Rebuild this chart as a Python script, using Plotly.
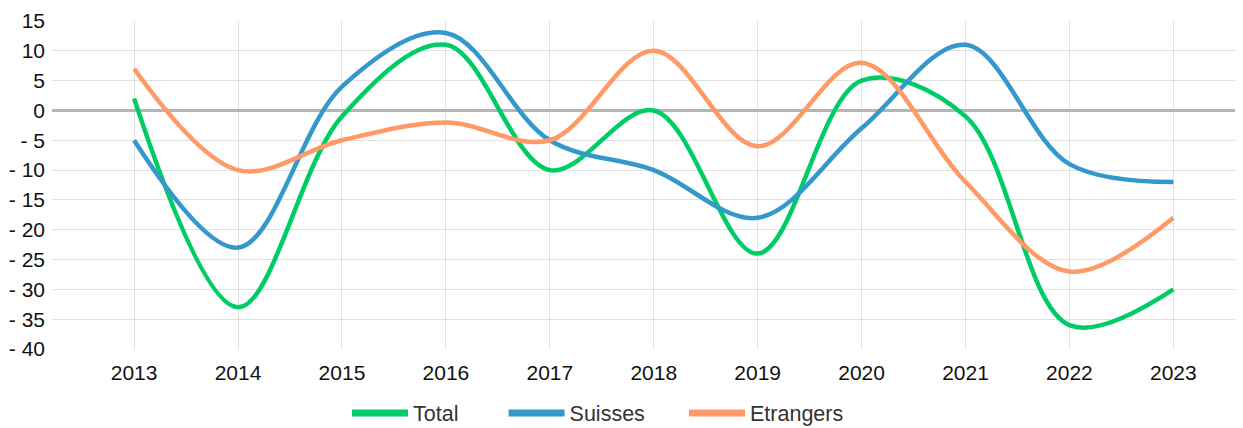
import plotly.graph_objects as go

years = ["2013", "2014", "2015", "2016", "2017", "2018", "2019", "2020", "2021", "2022", "2023"]
total = [2, -33, -1, 11, -10, 0, -24, 5, -1, -36, -30]
suisses = [-5, -23, 4, 13, -5, -10, -18, -3, 11, -9, -12]
etrangers = [7, -10, -5, -2, -5, 10, -6, 8, -12, -27, -18]

names = ["Total", "Suisses", "Etrangers"]
colors = ["#00CC66", "#3399CC", "#FF9966"]
series = [total, suisses, etrangers]
legend_pad = ["\u00a0" * 6 + "\u2009", "\u00a0" * 5 + "\u2009", ""]

ytickvals = list(range(-40, 20, 5))
yticktext = [("- " + str(-v)) if v < 0 else str(v) for v in ytickvals]

fig = go.Figure()
for n, c, s in zip(names, colors, series):
    fig.add_trace(go.Scatter(
        x=years, y=s, name=n, mode="lines", legendgroup=n, showlegend=False,
        line=dict(color=c, width=4.5, shape="spline", smoothing=1.0),
    ))
# legend entries (thicker symbol, extra spacing)
for n, c, p in zip(names, colors, legend_pad):
    fig.add_trace(go.Scatter(
        x=[None], y=[None], name=n + p, mode="lines", legendgroup=n,
        showlegend=True, line=dict(color=c, width=7),
    ))

fig.update_layout(
    width=1235, height=428,
    margin=dict(l=44, r=0, t=13, b=87),
    paper_bgcolor="white", plot_bgcolor="white",
    font=dict(family="Liberation Sans, Arial", size=21, color="#111111"),
    showlegend=True,
    legend=dict(orientation="h", x=0.2477, xanchor="left", y=-0.195, yanchor="middle",
                font=dict(size=21.5, color="#333333"), itemwidth=56, traceorder="normal",
                tracegroupgap=0),
    xaxis=dict(type="category", range=[-0.79, 10.67], showgrid=True, gridcolor="#e0e0e0",
               gridwidth=1, zeroline=False, showline=False, ticks="", automargin=False,
               ticklabelstandoff=9,
               tickfont=dict(size=21, color="#111111")),
    yaxis=dict(range=[-40, 15], tickvals=ytickvals, ticktext=yticktext, showgrid=True,
               gridcolor="#e0e0e0", gridwidth=1, zeroline=True, zerolinecolor="#b5b5b5",
               zerolinewidth=3, showline=False, ticks="", ticklabelstandoff=6,
               automargin=False,
               tickfont=dict(size=21, color="#111111")),
)

fig.write_html("out.html")
